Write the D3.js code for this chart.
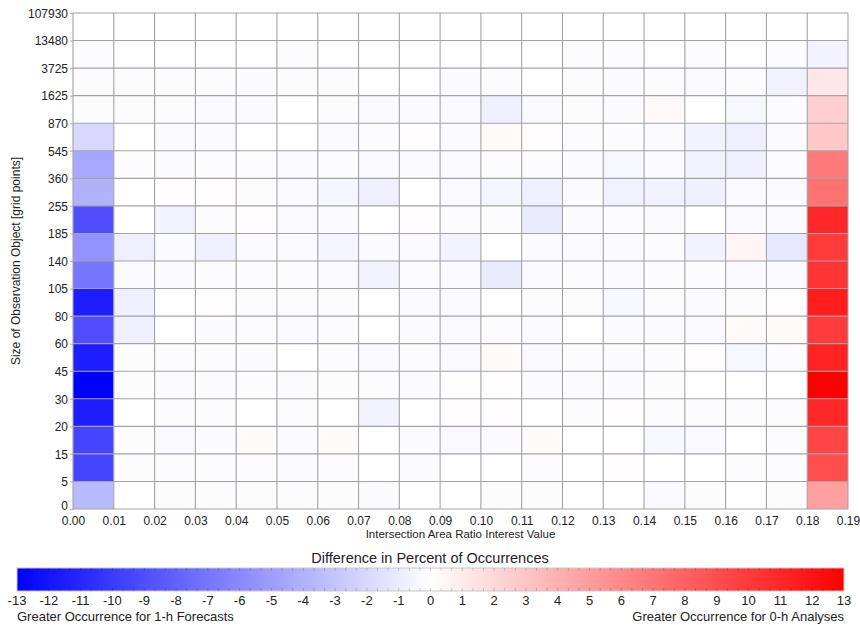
<!DOCTYPE html>
<html>
<head>
<meta charset="utf-8">
<script src="https://cdn.jsdelivr.net/npm/d3@7"></script>
<style>
  body { margin: 0; background: #fff; }
  svg { font-family: "Liberation Sans", Arial, sans-serif; }
</style>
</head>
<body>
<svg id="chart" width="860" height="625"></svg>
<script>
// column edges (Intersection Area Ratio Interest Value)
const xTicks = d3.range(0, 20).map((i) => i / 100);
// row edges (Size of Observation Object)
const yTicks = [0, 5, 15, 20, 30, 45, 60, 80, 105, 140, 185, 255, 360, 545, 870, 1625, 3725, 13480, 107930];
const legendTicks = d3.range(-13, 14);

const G = -0.15; // faint near-zero cells
// difference in percent, rows from bottom (0-5) to top (13480-107930), 19 columns each
const diff = [
  [-3.5, 0, G, G, G, G, G, -0.2, 0, 0, G, G, 0, 0, -0.3, G, 0, G, 4.9],
  [-9.5, G, G, G, G, -0.3, G, 0, -0.2, 0, 0, G, 0, 0.1, 0, 0, G, G, 9],
  [-9.5, G, -0.3, -0.2, 0.2, -0.2, 0.2, 0, -0.2, -0.3, -0.2, 0.2, 0, 0, -0.4, -0.3, 0, G, 9.5],
  [-11.5, 0, G, G, 0, G, 0, -0.6, 0, 0.1, 0.1, 0, G, 0.1, G, G, G, G, 11],
  [-13, G, -0.2, -0.2, G, -0.2, G, G, -0.2, 0.1, 0.1, -0.2, -0.2, -0.2, G, 0, 0, 0, 13],
  [-11.5, G, G, G, -0.2, 0, G, -0.3, G, -0.3, 0.2, -0.3, G, -0.2, G, 0.1, -0.4, G, 11.2],
  [-9, -0.8, 0, -0.2, G, -0.3, G, 0, -0.2, -0.3, G, -0.2, 0, -0.2, -0.2, -0.3, 0.2, 0.2, 10],
  [-11.5, -0.8, 0, 0.1, G, G, G, 0, -0.3, -0.3, 0, G, G, -0.4, G, -0.2, G, 0.1, 11.5],
  [-7, -0.2, -0.2, G, G, G, -0.3, -0.6, G, -0.3, -1.0, -0.2, G, -0.3, G, G, -0.3, -0.3, 10.3],
  [-5.5, -0.8, -0.2, -0.8, -0.2, -0.3, -0.5, -0.3, -0.3, -0.6, 0, -0.3, -0.3, -0.3, G, -0.6, 0.5, -1.2, 10],
  [-9, 0, -0.6, G, 0.1, -0.3, -0.3, 0, 0.1, G, G, -1.0, -0.2, G, -0.2, 0, -0.3, -0.2, 11],
  [-4, 0, 0.1, 0.1, G, -0.3, -0.5, -0.8, 0, -0.3, -0.5, -0.8, -0.2, -0.7, -0.7, -0.8, -0.3, -0.3, 7.2],
  [-4.5, G, -0.2, G, G, -0.3, G, -0.3, -0.3, -0.2, G, G, -0.2, -0.4, -0.3, -0.6, -0.8, G, 6.8],
  [-2, 0, -0.2, -0.2, 0, 0, -0.3, G, 0.1, -0.2, 0.2, 0.1, G, G, -0.2, -0.6, -0.8, -0.2, 2.8],
  [G, G, G, -0.3, -0.2, 0, G, -0.3, -0.2, -0.3, -0.8, -0.3, G, -0.2, 0.3, 0, -0.4, G, 2.5],
  [G, G, G, G, -0.2, G, G, 0, 0, -0.2, G, 0, G, -0.2, G, -0.3, G, -0.7, 1.2],
  [G, 0, 0, 0, 0, G, 0, 0, 0, 0, 0, 0, G, G, 0, G, 0, G, -0.6],
  [0, 0, 0, 0, 0, 0, 0, 0, 0, 0, 0, 0, 0, 0, 0, 0, 0, 0, 0],
];

const svg = d3.select('#chart');
const margin = { left: 73, top: 13 };
const plotRight = 848;
const plotBottom = 509;

const x = d3.scaleLinear().domain([0, 0.19]).range([margin.left, plotRight]);
const y = d3.scaleLinear().domain([0, yTicks.length - 1]).range([plotBottom, margin.top]);

const color = d3
  .scaleLinear()
  .domain([-13, 0, 13])
  .range(['#0000ff', '#ffffff', '#ff0000'])
  .clamp(true);

// heatmap cells
const cells = [];
diff.forEach((row, r) => {
  row.forEach((v, c) => cells.push({ r, c, v }));
});

svg
  .append('g')
  .selectAll('rect')
  .data(cells)
  .enter()
  .append('rect')
  .attr('x', (d) => x(xTicks[d.c]))
  .attr('y', (d) => y(d.r + 1))
  .attr('width', (d) => x(xTicks[d.c + 1]) - x(xTicks[d.c]))
  .attr('height', (d) => y(d.r) - y(d.r + 1))
  .attr('fill', (d) => color(d.v));

// grid lines
const grid = svg.append('g').attr('stroke', '#a3a3a3').attr('stroke-width', 1.1);
grid
  .selectAll('line.v')
  .data(xTicks)
  .enter()
  .append('line')
  .attr('x1', (d) => x(d))
  .attr('x2', (d) => x(d))
  .attr('y1', margin.top)
  .attr('y2', plotBottom);
grid
  .selectAll('line.h')
  .data(yTicks)
  .enter()
  .append('line')
  .attr('x1', margin.left)
  .attr('x2', plotRight)
  .attr('y1', (d, i) => y(i))
  .attr('y2', (d, i) => y(i));

// axes
const xAxis = svg
  .append('g')
  .attr('transform', `translate(0,${plotBottom})`)
  .call(
    d3.axisBottom(x).tickValues(xTicks).tickFormat(d3.format('.2f')).tickSize(0).tickPadding(7),
  );
const yAxis = svg
  .append('g')
  .attr('transform', `translate(${margin.left},0)`)
  .call(
    d3
      .axisLeft(y)
      .tickValues(d3.range(yTicks.length))
      .tickFormat((i) => yTicks[i])
      .tickSize(3)
      .tickPadding(2),
  );
[xAxis, yAxis].forEach((a) => {
  a.select('.domain').remove();
  a.selectAll('text').attr('font-size', 12).attr('fill', '#222').attr('font-family', 'Liberation Sans, Arial, sans-serif');
  a.selectAll('line').attr('stroke', '#aaa');
});
yAxis.selectAll('text').attr('dy', (i) => (i === 0 ? '0.05em' : '0.36em'));

svg
  .append('text')
  .attr('x', (margin.left + plotRight) / 2)
  .attr('y', 538)
  .attr('text-anchor', 'middle')
  .attr('font-size', 11.5)
  .attr('fill', '#222')
  .text('Intersection Area Ratio Interest Value');

svg
  .append('text')
  .attr('transform', `translate(20,${(margin.top + plotBottom) / 2}) rotate(-90)`)
  .attr('text-anchor', 'middle')
  .attr('font-size', 12)
  .attr('fill', '#222')
  .text('Size of Observation Object [grid points]');

// colour bar
const lx = d3.scaleLinear().domain([-13, 13]).range([17, 844]);
const barTop = 568;
const barH = 23;

const grad = svg
  .append('defs')
  .append('linearGradient')
  .attr('id', 'bar-gradient')
  .attr('x1', '0%')
  .attr('x2', '100%');
grad
  .selectAll('stop')
  .data(legendTicks)
  .enter()
  .append('stop')
  .attr('offset', (d) => `${((d + 13) / 26) * 100}%`)
  .attr('stop-color', (d) => color(d));

svg
  .append('text')
  .attr('x', 430)
  .attr('y', 563)
  .attr('text-anchor', 'middle')
  .attr('font-size', 14.5)
  .attr('fill', '#222')
  .text('Difference in Percent of Occurrences');

svg
  .append('rect')
  .attr('x', lx(-13))
  .attr('y', barTop)
  .attr('width', lx(13) - lx(-13))
  .attr('height', barH)
  .attr('fill', 'url(#bar-gradient)')
  .attr('stroke', '#c8c8c8')
  .attr('stroke-width', 1);

// small ticks along the bar edges
const minor = d3.range(-13 + 1 / 3, 13, 1 / 3);
const barTicks = svg.append('g').attr('stroke', '#000').attr('stroke-opacity', 0.18);
barTicks
  .selectAll('line.t')
  .data(minor)
  .enter()
  .append('line')
  .attr('x1', (d) => lx(d))
  .attr('x2', (d) => lx(d))
  .attr('y1', barTop)
  .attr('y2', barTop + 3);
barTicks
  .selectAll('line.b')
  .data(minor)
  .enter()
  .append('line')
  .attr('x1', (d) => lx(d))
  .attr('x2', (d) => lx(d))
  .attr('y1', barTop + barH - 3)
  .attr('y2', barTop + barH);

svg
  .append('g')
  .selectAll('text')
  .data(legendTicks)
  .enter()
  .append('text')
  .attr('x', (d) => lx(d))
  .attr('y', 605)
  .attr('text-anchor', 'middle')
  .attr('font-size', 13)
  .attr('fill', '#222')
  .text((d) => d);

svg
  .append('text')
  .attr('x', 17)
  .attr('y', 621)
  .attr('font-size', 13)
  .attr('fill', '#222')
  .text('Greater Occurrence for 1-h Forecasts');

svg
  .append('text')
  .attr('x', 844)
  .attr('y', 621)
  .attr('text-anchor', 'end')
  .attr('font-size', 13)
  .attr('fill', '#222')
  .text('Greater Occurrence for 0-h Analyses');
</script>
</body>
</html>
